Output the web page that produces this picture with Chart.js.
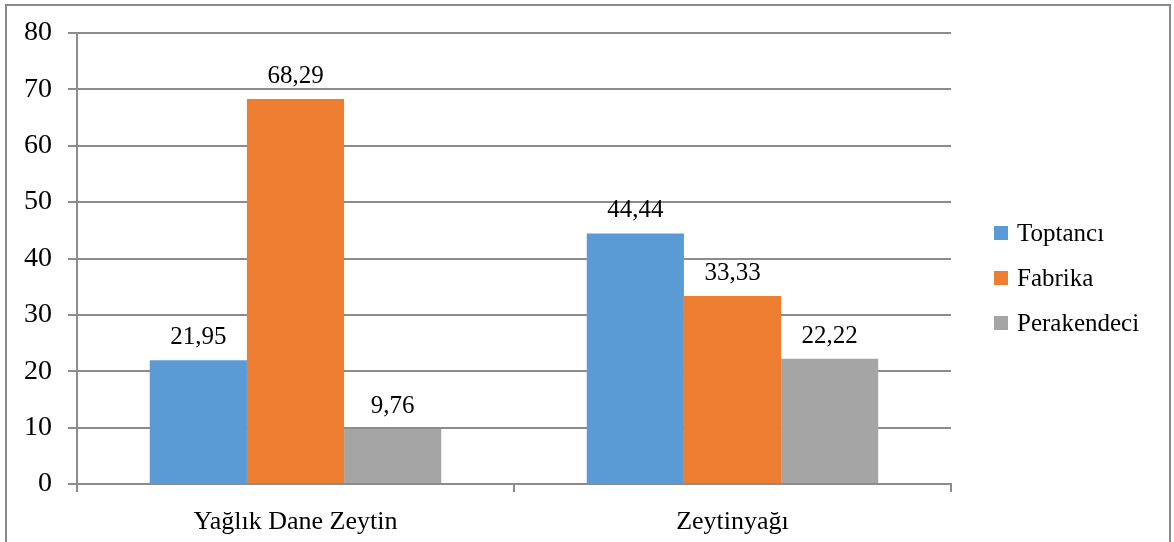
<!DOCTYPE html>
<html>
<head>
<meta charset="utf-8">
<script src="https://cdn.jsdelivr.net/npm/chart.js@4"></script>
<style>
  body { margin: 0; background: #fff; }
  #wrap { position: relative; width: 1174px; height: 542px; overflow: hidden; }
  #frame {
    position: absolute; left: 5px; top: 4px; width: 1162px; height: 600px;
    border: 2px solid #8a8a8a; pointer-events: none;
  }
</style>
</head>
<body>
<div id="wrap">
  <canvas id="chart" width="1174" height="542"></canvas>
  <div id="frame"></div>
</div>
<script>
// categories and series
const categories = ['Yağlık Dane Zeytin', 'Zeytinyağı'];
const seriesNames = ['Toptancı', 'Fabrika', 'Perakendeci'];
const toptanci = [21.95, 44.44];
const fabrika = [68.29, 33.33];
const perakendeci = [9.76, 22.22];
const seriesColors = ['#5B9BD5', '#ED7D31', '#A5A5A5'];
const yTicks = [0, 10, 20, 30, 40, 50, 60, 70, 80];

const serif = "'Liberation Serif', 'Times New Roman', serif";
const gridColor = '#8c8c8c';

// value labels above each bar, decimal comma
const valueLabels = {
  id: 'valueLabels',
  afterDatasetsDraw(chart) {
    const ctx = chart.ctx;
    ctx.save();
    ctx.font = '25px ' + serif;
    ctx.fillStyle = '#000';
    ctx.textAlign = 'center';
    ctx.textBaseline = 'alphabetic';
    chart.data.datasets.forEach((ds, i) => {
      chart.getDatasetMeta(i).data.forEach((bar, j) => {
        const txt = ds.data[j].toFixed(2).replace('.', ',');
        ctx.fillText(txt, bar.x, bar.y - 16);
      });
    });
    ctx.restore();
  }
};

// legend on the right, stacked
const sideLegend = {
  id: 'sideLegend',
  afterDraw(chart) {
    const ctx = chart.ctx;
    ctx.save();
    ctx.font = '25px ' + serif;
    ctx.textBaseline = 'middle';
    ctx.textAlign = 'left';
    chart.data.datasets.forEach((ds, i) => {
      const y = 233 + i * 45;
      ctx.fillStyle = ds.backgroundColor;
      ctx.fillRect(994, y - 7, 14, 14);
      ctx.fillStyle = '#000';
      ctx.fillText(ds.label, 1017, y + 1);
    });
    ctx.restore();
  }
};

const ctx = document.getElementById('chart').getContext('2d');
new Chart(ctx, {
  type: 'bar',
  data: {
    labels: categories,
    datasets: [
      { label: seriesNames[0], data: toptanci, backgroundColor: seriesColors[0] },
      { label: seriesNames[1], data: fabrika, backgroundColor: seriesColors[1] },
      { label: seriesNames[2], data: perakendeci, backgroundColor: seriesColors[2] }
    ]
  },
  options: {
    responsive: false,
    animation: false,
    layout: { padding: { top: 33, right: 223, bottom: 0, left: 0 } },
    datasets: { bar: { barPercentage: 1, categoryPercentage: 0.667 } },
    plugins: {
      legend: { display: false },
      tooltip: { enabled: false }
    },
    scales: {
      x: {
        z: 1,
        afterFit(scale) { scale.height = 58; },
        grid: { display: true, drawOnChartArea: false, drawTicks: true, tickLength: 8, color: gridColor, lineWidth: 2, offset: true },
        border: { display: true, color: gridColor, width: 2 },
        ticks: { color: '#000', font: { family: serif, size: 26 }, padding: 15 }
      },
      y: {
        min: 0,
        max: 80,
        afterFit(scale) { scale.width = 77; },
        afterBuildTicks(scale) { scale.ticks = yTicks.map(v => ({ value: v })); },
        grid: { color: gridColor, lineWidth: 2, tickLength: 9 },
        border: { display: true, color: gridColor, width: 2 },
        ticks: { color: '#000', font: { family: serif, size: 28 }, padding: 16 }
      }
    }
  },
  plugins: [valueLabels, sideLegend]
});
</script>
</body>
</html>
